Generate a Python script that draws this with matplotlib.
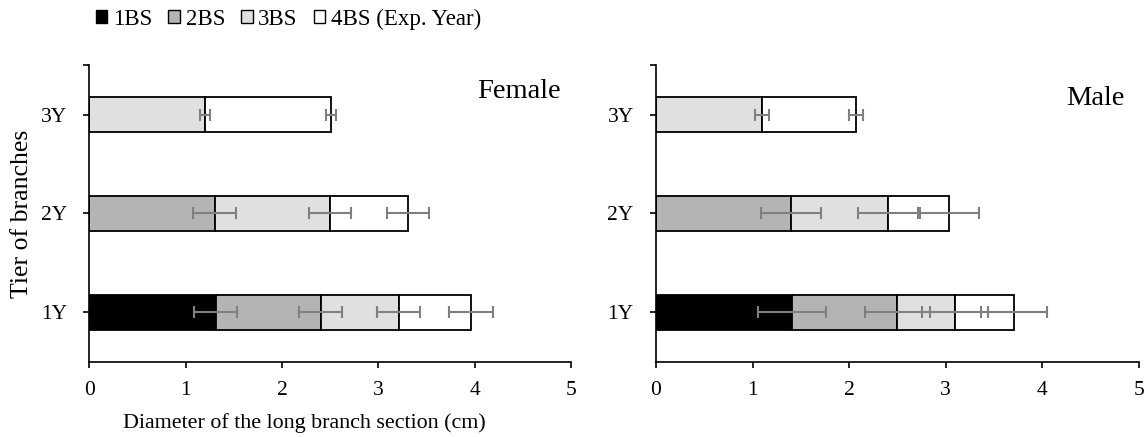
import numpy as np
import matplotlib
matplotlib.use('Agg')
import matplotlib.pyplot as plt
from matplotlib.patches import Patch

plt.rcParams['font.family'] = ['Liberation Serif', 'DejaVu Serif']

# Tiers and stacked branch sections
tiers = ['1Y', '2Y', '3Y']
sections = ['1BS', '2BS', '3BS', '4BS (Exp. Year)']
colors = ['#000000', '#b4b4b4', '#e0e0e0', '#ffffff']

# Female: diameter of each section per tier (0 = section absent)
female_1bs = [1.31, 0.00, 0.00]
female_2bs = [1.09, 1.30, 0.00]
female_3bs = [0.81, 1.20, 1.20]
female_4bs = [0.75, 0.81, 1.31]
female_err_1bs = [0.22, 0.00, 0.00]
female_err_2bs = [0.22, 0.22, 0.00]
female_err_3bs = [0.22, 0.22, 0.05]
female_err_4bs = [0.23, 0.22, 0.05]

# Male
male_1bs = [1.41, 0.00, 0.00]
male_2bs = [1.09, 1.40, 0.00]
male_3bs = [0.60, 1.00, 1.10]
male_4bs = [0.61, 0.64, 0.97]
male_err_1bs = [0.35, 0.00, 0.00]
male_err_2bs = [0.34, 0.31, 0.00]
male_err_3bs = [0.34, 0.31, 0.07]
male_err_4bs = [0.34, 0.31, 0.07]

panels = [
    ('Female', [female_1bs, female_2bs, female_3bs, female_4bs],
     [female_err_1bs, female_err_2bs, female_err_3bs, female_err_4bs], (4.89, 3.23)),
    ('Male', [male_1bs, male_2bs, male_3bs, male_4bs],
     [male_err_1bs, male_err_2bs, male_err_3bs, male_err_4bs], (4.85, 3.16)),
]

fig = plt.figure(figsize=(11.48, 4.37), dpi=100)
axes = [fig.add_axes([0.0778, 0.1723, 0.4196, 0.6783]),
        fig.add_axes([0.5714, 0.1723, 0.4205, 0.6783])]

y = np.arange(1, len(tiers) + 1)
for ax, (name, values, errors, label_pos) in zip(axes, panels):
    left = np.zeros(len(tiers))
    for vals, errs, col in zip(values, errors, colors):
        vals = np.array(vals)
        errs = np.array(errs)
        m = vals > 0
        ax.barh(y[m], vals[m], left=left[m], height=0.35, color=col,
                edgecolor='black', linewidth=1.3, zorder=2)
        ax.errorbar(left[m] + vals[m], y[m], xerr=errs[m], fmt='none',
                    ecolor='#808080', elinewidth=1.5, capsize=4.5,
                    capthick=1.5, zorder=3)
        left = left + vals
    ax.set_xlim(0, 5)
    ax.set_ylim(0.5, 3.5)
    ax.set_yticks(y)
    ax.set_yticklabels(tiers)
    ax.set_yticks([3.5], minor=True)
    ax.set_xticks(range(6))
    for s in ['top', 'right']:
        ax.spines[s].set_visible(False)
    for s in ['left', 'bottom']:
        ax.spines[s].set_linewidth(1.2)
    ax.tick_params(axis='both', which='both', direction='out', length=4,
                   width=1.2, labelsize=15.5)
    ax.tick_params(axis='y', pad=12)
    ax.tick_params(axis='x', pad=10)
    ax.text(label_pos[0], label_pos[1], name, fontsize=20.5,
            ha='right', va='center')

fig.text(0.265, 0.032, 'Diameter of the long branch section (cm)',
         fontsize=15.8, ha='center', va='center')
fig.text(0.019, 0.510, 'Tier of branches', fontsize=18.5,
         rotation=90, ha='center', va='center')

handles = [Patch(facecolor=c, edgecolor='black', linewidth=1.0) for c in colors]
fig.legend(handles, sections, loc='center left', bbox_to_anchor=(0.0836, 0.9565),
           ncol=4, frameon=False, fontsize=16.5, handlelength=0.5,
           handleheight=0.5, handletextpad=0.25, columnspacing=0.7,
           borderaxespad=0, borderpad=0)

fig.savefig('out.png', dpi=100)
